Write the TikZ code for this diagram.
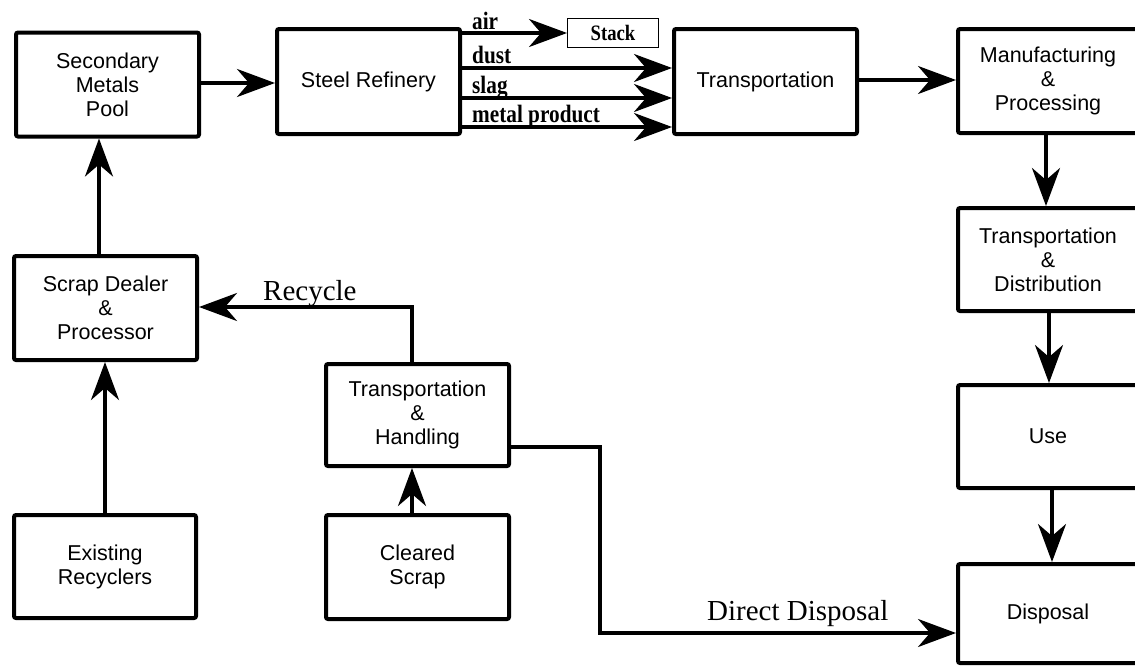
\documentclass[tikz,border=0pt]{standalone}
\usepackage{fontspec}
\setmainfont{Liberation Serif}
\newfontfamily\boxfont{Liberation Sans}
\newfontfamily\lblfont[FakeStretch=0.85]{Liberation Serif Bold}
\usetikzlibrary{arrows.meta}
\begin{document}
\begin{tikzpicture}[x=1pt,y=-1pt,
  box/.style={draw, line width=4pt, rounded corners=2pt, inner sep=0pt,
    outer sep=2pt, align=center,
    font=\boxfont\fontsize{21.5}{24}\selectfont,
    minimum width=183pt, minimum height=104pt},
  rbox/.style={box, minimum width=180pt},
  conn/.style={line width=3.5pt,
    -{Stealth[length=38pt,width=28pt,inset=12pt]}},
  flowlbl/.style={font=\lblfont\fontsize{25}{25}\selectfont, inner sep=0pt, anchor=base west},
  pathlbl/.style={font=\fontsize{29}{29}\selectfont, inner sep=0pt, anchor=base west},
  stackbox/.style={draw, line width=1pt, minimum width=91pt, minimum height=29pt,
    inner sep=0pt, outer sep=0.5pt, font=\lblfont\fontsize{22}{22}\selectfont}
]
\useasboundingbox (0,0) rectangle (1135,667);
\clip (0,0) rectangle (1135,667);

% process boxes
\node[box] (smp) at (107.5,84.5) {Secondary\\Metals\\Pool};
\node[box, minimum height=105pt] (sr) at (368.5,81.5) {Steel Refinery};
\node[box, minimum height=105pt] (tr) at (765.5,81.5) {Transportation};
\node[rbox] (mp) at (1048,81) {Manufacturing\\\&\\Processing};
\node[rbox, minimum height=103pt] (td) at (1048,259.5) {Transportation\\\&\\Distribution};
\node[rbox, minimum height=103pt] (use) at (1048,436.5) {Use};
\node[rbox, minimum height=99pt] (disp) at (1048,613.5) {Disposal};
\node[box] (sd) at (105.5,308) {Scrap Dealer\\\&\\Processor};
\node[box, minimum width=182pt, minimum height=103pt] (er) at (105,566.5) {Existing\\Recyclers};
\node[box, minimum height=102pt] (th) at (417.5,415) {Transportation\\\&\\Handling};
\node[box] (cs) at (417.5,567) {Cleared\\Scrap};
\node[stackbox] (stack) at (613,33) {Stack};

% main flow
\draw[conn] (smp.east |- 0,83) -- (sr.west |- 0,83);
\draw[conn] (tr.east |- 0,80) -- (mp.west |- 0,80);
\draw[conn] (1046,0 |- mp.south) -- (1046,0 |- td.north);
\draw[conn] (1049,0 |- td.south) -- (1049,0 |- use.north);
\draw[conn] (1052,0 |- use.south) -- (1052,0 |- disp.north);

% refinery outputs
\draw[conn] (sr.east |- 0,33) -- (stack.west);
\draw[conn] (sr.east |- 0,68) -- (tr.west |- 0,68);
\draw[conn] (sr.east |- 0,98) -- (tr.west |- 0,98);
\draw[conn] (sr.east |- 0,127) -- (tr.west |- 0,127);
\node[flowlbl] (lair) at (472,29) {air};
\node[flowlbl] (ldust) at (472,63) {dust};
\node[flowlbl] (lslag) at (472,93) {slag};
\node[flowlbl] (lmetal) at (472,122) {metal product};

% collection and recycling
\draw[conn] (99,0 |- sd.north) -- (99,0 |- smp.south);
\draw[conn] (105,0 |- er.north) -- (105,0 |- sd.south);
\draw[conn] (412,0 |- cs.north) -- (412,0 |- th.south);
\draw[conn] (412,0 |- th.north) -- (412,307) -- (sd.east |- 0,307);
\node[pathlbl] (lrec) at (263,300) {Recycle};
\draw[conn] (th.east |- 0,447) -- (600,447) -- (600,633) -- (disp.west |- 0,633);
\node[pathlbl] (ldd) at (707,620) {Direct Disposal};
\end{tikzpicture}
\end{document}
